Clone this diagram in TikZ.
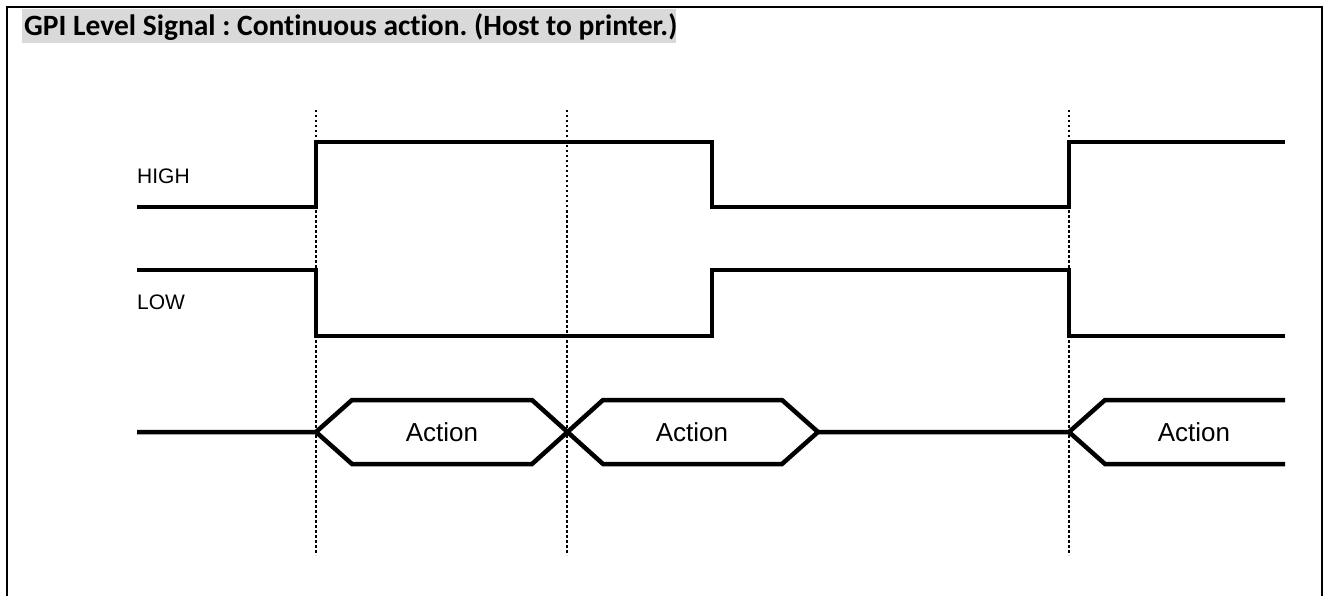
\documentclass[tikz,border=0pt]{standalone}
\usepackage{xcolor}
\usepackage{fontspec}
\setmainfont{Liberation Sans}
\newfontfamily\titlefont[Ligatures=NoCommon]{Carlito}
\definecolor{titlegray}{HTML}{D9D9D9}
\frenchspacing

\tikzset{
  signal/.style={line width=4.5pt},
  marker/.style={line width=1.3pt, dash pattern=on 2.5pt off 2.5pt},
  lvl/.style={font=\fontsize{21}{25}\selectfont, anchor=west, inner sep=0pt},
  act/.style={font=\fontsize{26}{30}\selectfont, inner sep=0pt},
}

\begin{document}
\begin{tikzpicture}[x=1pt,y=-1pt]
        \useasboundingbox (0,0) rectangle (1327,596);
        \draw[line width=2pt] (7,596) -- (7,7) -- (1322,7) -- (1322,596);
        \fill[titlegray] (22,9) rectangle (676,43);
        \node[anchor=base west, inner sep=0pt, font=\titlefont\bfseries\fontsize{29.5}{34}\selectfont] (title) at (24,36) {GPI Level Signal : Continuous action. (Host to printer.)};

        % event markers
        \foreach \t/\n in {316/a,567/b,1069/c}{
          \coordinate (top\n) at (\t,110);
          \coordinate (bot\n) at (\t,555);
          \draw[marker] (top\n) -- (bot\n);
        }

        \node[lvl] (high) at (137,176) {HIGH};
        \node[lvl] (low) at (137,302) {LOW};

        \draw[signal] (137,207) -- (316,207) -- (316,142) -- (712,142) -- (712,207) -- (1069,207) -- (1069,142) -- (1285,142);
        \draw[signal] (137,270) -- (316,270) -- (316,336) -- (712,336) -- (712,270) -- (1069,270) -- (1069,336) -- (1285,336);

        % action windows
        \draw[signal] (137,432) -- (316,432) -- (352,400) -- (532,400) -- (603,464) -- (782,464) -- (818,432) -- (1069,432) -- (1105,400) -- (1285,400);
        \draw[signal] (316,432) -- (352,464) -- (532,464) -- (603,400) -- (782,400) -- (818,432);
        \draw[signal] (1069,432) -- (1105,464) -- (1285,464);

        \foreach \x/\n in {442/1,692/2,1194/3}
          \node[act] (act\n) at (\x,432) {Action};
\end{tikzpicture}
\end{document}
